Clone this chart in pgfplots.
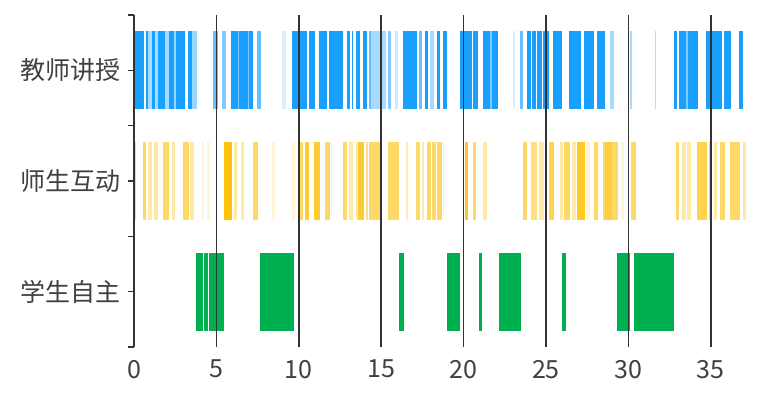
\documentclass[border=0pt]{standalone}
\usepackage{fontspec}
\setmainfont{Noto Sans CJK SC}
\usepackage{pgfplots}
\usepackage{pgfplotstable}
\pgfplotsset{compat=1.18}
\definecolor{tblue}{RGB}{0,150,255}
\definecolor{tyellow}{RGB}{255,192,0}
\definecolor{tgreen}{RGB}{0,176,80}
\definecolor{axgray}{RGB}{51,51,51}
\definecolor{txtgray}{RGB}{64,64,64}

% s = start, e = end, a = opacity
\pgfplotstableread{
s e a
0.00 0.60 0.9
0.72 0.85 0.9
0.85 1.09 0.35
1.09 1.27 0.9
1.27 1.46 0.35
1.46 1.88 0.9
1.88 2.12 0.35
2.12 2.45 0.9
2.45 2.55 0.4
2.55 3.09 0.9
3.28 3.52 0.9
3.52 3.82 0.4
4.80 5.10 0.6
5.34 5.58 0.5
5.90 6.30 0.9
6.30 6.40 0.5
6.40 6.90 0.9
6.90 6.98 0.5
6.98 7.20 0.9
7.48 7.68 0.6
9.00 9.20 0.15
9.60 10.50 0.9
10.62 10.98 0.9
11.20 11.70 0.9
11.82 12.70 0.9
12.90 13.10 0.9
13.20 13.32 0.9
13.45 13.70 0.9
13.90 14.15 0.9
14.25 14.40 0.6
14.40 15.00 0.35
15.05 15.30 0.35
15.40 15.60 0.5
15.85 16.00 0.2
16.30 17.20 0.9
17.30 17.50 0.6
17.65 17.85 0.9
17.95 18.20 0.35
18.40 18.60 0.9
18.75 19.00 0.9
19.80 20.50 0.9
20.60 20.90 0.9
21.20 21.60 0.9
21.60 21.75 0.5
21.75 22.10 0.9
23.00 23.10 0.15
23.40 23.60 0.6
23.85 24.12 0.9
24.16 24.40 0.9
24.45 24.75 0.9
24.80 25.20 0.9
25.40 26.00 0.9
26.40 27.10 0.9
27.30 27.90 0.9
28.10 28.60 0.9
28.90 29.10 0.35
30.10 30.20 0.35
31.60 31.68 0.3
32.80 32.95 0.9
33.10 33.50 0.9
33.50 33.60 0.5
33.60 34.20 0.9
34.70 34.95 0.9
35.05 35.70 0.9
35.80 36.20 0.9
36.70 36.95 0.9
}\tblA

\pgfplotstableread{
s e a
0.00 0.10 0.6
0.55 0.70 0.6
0.85 1.10 0.35
1.20 1.45 0.35
1.75 2.10 0.6
2.30 2.50 0.35
2.95 3.35 0.6
3.40 3.65 0.35
4.15 4.25 0.15
4.40 4.60 0.15
5.45 5.95 0.95
6.05 6.25 0.35
6.50 6.70 0.35
7.20 7.50 0.6
8.40 8.55 0.15
9.60 9.80 0.15
9.95 10.25 0.6
10.40 10.65 0.8
10.90 11.30 0.8
11.60 11.90 0.6
11.95 12.00 0.15
12.70 12.95 0.6
13.05 13.30 0.35
13.50 13.60 0.35
13.60 13.95 0.8
14.05 14.20 0.5
14.25 15.05 0.6
15.40 16.10 0.6
16.50 16.60 0.3
17.10 17.35 0.6
17.45 17.60 0.35
17.80 18.00 0.6
18.10 18.35 0.6
18.40 18.70 0.6
18.75 18.80 0.15
20.10 20.25 0.9
20.55 20.75 0.6
21.20 21.40 0.35
23.60 23.85 0.6
24.10 24.45 0.5
24.60 24.90 0.35
25.20 25.50 0.7
25.85 26.05 0.35
26.10 26.45 0.6
26.60 26.85 0.35
26.90 27.35 0.85
27.45 27.70 0.15
27.90 28.15 0.6
28.45 29.35 0.6
28.60 29.00 0.4
29.55 29.75 0.15
30.15 30.45 0.6
32.90 33.10 0.6
33.25 33.50 0.35
33.55 33.80 0.35
34.15 34.75 0.7
34.90 35.10 0.6
35.20 35.40 0.35
35.55 35.85 0.6
36.15 36.75 0.6
36.95 37.15 0.35
}\tblB

\pgfplotstableread{
s e a
3.76 4.215 1
4.225 4.515 1
4.525 5.135 1
5.145 5.46 1
7.64 8.485 1
8.495 9.255 1
9.265 9.70 1
16.07 16.40 1
19.00 19.78 1
20.95 21.14 1
22.14 22.995 1
23.005 23.51 1
26.00 26.20 1
29.34 29.665 1
29.675 30.09 1
30.35 31.655 1
31.665 32.77 1
}\tblC

\begin{document}
\begin{tikzpicture}
\useasboundingbox (-67pt,-24pt) rectangle (311.5pt,173.5pt);
\begin{axis}[
  scale only axis,
  width=306.5pt, height=166pt,
  xmin=0, xmax=37.2, ymin=0.5, ymax=3.5,
  axis on top,
  axis lines*=left,
  axis line style={-},
  x axis line style={draw=none},
  y axis line style={draw=axgray, line width=0.7pt},
  tick align=outside,
  major tick length=3pt,
  xtick={0,5,...,35},
  xtick style={draw=none},
  xmajorgrids=true,
  grid style={draw=axgray, line width=0.8pt},
  ytick={0.5,1.5,2.5,3.5},
  yticklabels={,,,},
  ytick style={draw=axgray, line width=0.7pt},
  extra y ticks={1,2,3},
  extra y tick labels={学生自主,师生互动,教师讲授},
  extra y tick style={grid=none, tick style={draw=none}},
  tick label style={font=\fontsize{12.5pt}{15pt}\selectfont, text=txtgray},
  /pgf/number format/assume math mode=true,
  point meta min=0, point meta max=1,
  clip=false,
]
\addplot[no markers, draw=tblue, point meta=\thisrow{a},
  quiver={u=\thisrow{e}-\thisrow{s}, v=0,
    every arrow/.append style={-, draw=tblue, line width=39pt,
      /utils/exec={\pgfmathsetmacro\myop{\pgfplotspointmetatransformed/1000}},
      draw opacity=\myop}}]
  table[x=s, y expr=3] {\tblA};
\addplot[no markers, draw=tyellow, point meta=\thisrow{a},
  quiver={u=\thisrow{e}-\thisrow{s}, v=0,
    every arrow/.append style={-, draw=tyellow, line width=39pt,
      /utils/exec={\pgfmathsetmacro\myop{\pgfplotspointmetatransformed/1000}},
      draw opacity=\myop}}]
  table[x=s, y expr=2] {\tblB};
\addplot[no markers, draw=tgreen, point meta=\thisrow{a},
  quiver={u=\thisrow{e}-\thisrow{s}, v=0,
    every arrow/.append style={-, draw=tgreen, line width=39pt,
      /utils/exec={\pgfmathsetmacro\myop{\pgfplotspointmetatransformed/1000}},
      draw opacity=\myop}}]
  table[x=s, y expr=1] {\tblC};
\end{axis}
\end{tikzpicture}
\end{document}
